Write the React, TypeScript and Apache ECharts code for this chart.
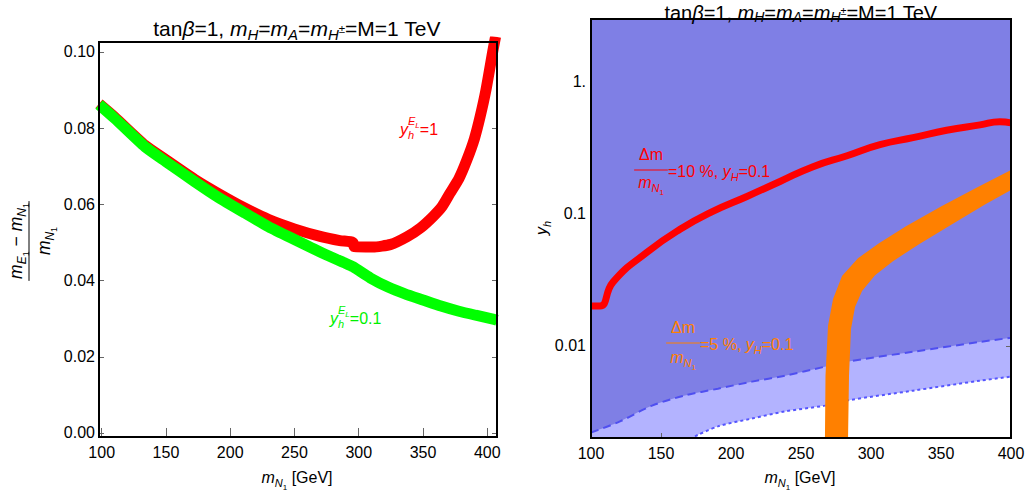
import React, { useEffect, useRef } from "react";
import * as echarts from "echarts";

const FONT = '"Liberation Sans", Arial, Helvetica, sans-serif';

// ---------- Left panel data ----------
const LEFT_X_TICKS = [100, 150, 200, 250, 300, 350, 400];
const LEFT_Y_TICKS = [0, 0.02, 0.04, 0.06, 0.08, 0.1];

const RED_L_X = [97.9, 110, 133.7, 150, 172.6, 190, 211.5, 230, 250.4, 270, 285.3, 295.5, 296.5, 311, 325, 337.6, 348, 357.8, 365, 371, 378, 384.2, 390, 394.4, 399, 404.5, 406.5];
const RED_L_Y = [0.0864, 0.0829, 0.0755, 0.0717, 0.0665, 0.063, 0.059, 0.056, 0.0535, 0.0516, 0.0505, 0.05, 0.0489, 0.0488, 0.0495, 0.0515, 0.0538, 0.0568, 0.0595, 0.0629, 0.0668, 0.0717, 0.0772, 0.0829, 0.09, 0.1005, 0.104];

const GREEN_L_X = [97.9, 110, 133.7, 150, 172.6, 190, 211.5, 230, 250.4, 270, 289.3, 295.6, 309, 322.8, 336, 350, 364, 377.3, 391, 404.5, 407.6];
const GREEN_L_Y = [0.0862, 0.0826, 0.0751, 0.0712, 0.0659, 0.062, 0.0577, 0.0541, 0.0507, 0.0475, 0.0446, 0.0436, 0.0407, 0.0383, 0.0365, 0.0349, 0.0333, 0.032, 0.0309, 0.0299, 0.0296];

// ---------- Right panel data ----------
const RIGHT_X_TICKS = [100, 150, 200, 250, 300, 350, 400];
const RIGHT_Y_TICKS = [0.01, 0.1, 1];

const RED_R_X = [100, 106.4, 115.7, 140, 163.6, 187, 211.4, 235, 258.6, 282.9, 306.4, 330, 354, 377.9, 392, 400];
const RED_R_Y = [0.02, 0.02, 0.0304, 0.0512, 0.0764, 0.1044, 0.1355, 0.176, 0.228, 0.276, 0.335, 0.378, 0.43, 0.473, 0.5, 0.49];

const DASH_X = [100, 120.7, 143.6, 167, 190.7, 215, 238.6, 267, 282.9, 330, 377.9, 400];
const DASH_Y = [0.0022, 0.00267, 0.00352, 0.0042, 0.00473, 0.00535, 0.00594, 0.00694, 0.00757, 0.00901, 0.0107, 0.0115];

const DOT_X = [174.3, 190.7, 215, 238.6, 267, 282.9, 330, 377.9, 400];
const DOT_Y = [0.00206, 0.00245, 0.00281, 0.00318, 0.00352, 0.00385, 0.00457, 0.00544, 0.00583];

const ORANGE_L_X = [267.1, 267.5, 269.3, 272.9, 279.3, 290.7, 305.7, 325, 350, 374.3, 400];
const ORANGE_L_Y = [0.002, 0.00594, 0.01416, 0.02264, 0.03375, 0.0461, 0.0599, 0.0804, 0.1139, 0.1558, 0.215];
const ORANGE_R_X = [283.6, 284.3, 285.7, 288.6, 293.6, 302.9, 315.7, 334.3, 357.9, 381.4, 400];
const ORANGE_R_Y = [0.002, 0.00594, 0.01343, 0.0197, 0.026, 0.0343, 0.0438, 0.0589, 0.0833, 0.1179, 0.152];

const zip = (xs: number[], ys: number[]) => xs.map((x, i) => [x, ys[i]]);

// ---------- text layout helpers ----------
type Run = { t: string; s?: number; i?: boolean; dy?: number; stack?: boolean };
let mctx: CanvasRenderingContext2D | null = null;
function tw(t: string, size: number, italic?: boolean) {
  if (!mctx) mctx = document.createElement("canvas").getContext("2d");
  mctx!.font = `${italic ? "italic " : ""}${size}px ${FONT}`;
  return mctx!.measureText(t).width;
}
function measureRuns(runs: Run[], base: number) {
  let cur = 0;
  let prevStart = 0;
  const pos: { r: Run; size: number; start: number }[] = [];
  runs.forEach((r) => {
    const size = r.s ?? base;
    const w = tw(r.t, size, r.i);
    const start = r.stack ? prevStart : cur;
    pos.push({ r, size, start });
    prevStart = start;
    cur = Math.max(cur, start + w);
  });
  return { pos, width: cur };
}
function textRuns(runs: Run[], base: number, x: number, baseline: number, align: "left" | "center" | "right", color: string): any[] {
  const { pos, width } = measureRuns(runs, base);
  const x0 = align === "center" ? x - width / 2 : align === "right" ? x - width : x;
  return pos.map((p) => ({
    type: "text",
    silent: true,
    z: 110,
    x: x0 + p.start,
    y: baseline + (p.r.dy ?? 0) - 0.35 * p.size,
    style: {
      text: p.r.t,
      fill: color,
      fontSize: p.size,
      fontFamily: FONT,
      fontStyle: p.r.i ? "italic" : "normal",
      align: "left",
      verticalAlign: "middle",
      textAlign: "left",
      textVerticalAlign: "middle",
    },
  }));
}
function fraction(cx: number, numBase: number, lineY: number, denBase: number, num: Run[], den: Run[], base: number, color: string, pad = 4): any[] {
  const wn = measureRuns(num, base).width;
  const wd = measureRuns(den, base).width;
  const half = Math.max(wn, wd) / 2 + pad;
  return [
    ...textRuns(num, base, cx, numBase, "center", color),
    { type: "line", silent: true, z: 110, shape: { x1: cx - half, y1: lineY, x2: cx + half, y2: lineY }, style: { stroke: color, lineWidth: 1 } },
    ...textRuns(den, base, cx, denBase, "center", color),
  ];
}

const titleRuns = (sub: number, dy: number): Run[] => [
  { t: "tan" }, { t: "β", i: true }, { t: "=1, " },
  { t: "m", i: true }, { t: "H", i: true, s: sub, dy }, { t: "=" },
  { t: "m", i: true }, { t: "A", i: true, s: sub, dy }, { t: "=" },
  { t: "m", i: true }, { t: "H", i: true, s: sub, dy }, { t: "±", s: sub * 0.77, dy: dy - 7 },
  { t: "=M=1 TeV" },
];
const MN1: Run[] = [{ t: "m", i: true }, { t: "N", i: true, s: 11, dy: 4 }, { t: "1", s: 8, dy: 7 }];
const MN1B: Run[] = [{ t: "m", i: true }, { t: "N", i: true, s: 12, dy: 4 }, { t: "1", s: 9, dy: 7 }];
const XNAME: Run[] = [...MN1, { t: " [GeV]" }];
const YHEL = (rest: string): Run[] => [
  { t: "y", i: true }, { t: "h", i: true, s: 11, dy: 4 }, { t: "E", i: true, s: 11, dy: -10, stack: true }, { t: "L", i: true, s: 8, dy: -7 }, { t: rest },
];

function buildOption(): any {
  const tick = (vals: number[]) => ({ show: true, inside: true, length: 5, customValues: vals, lineStyle: { color: "#666", width: 1 } });
  const lab = { fontSize: 16, fontFamily: FONT, color: "#000" };
  const common = { axisLine: { show: false }, splitLine: { show: false } };

  const graphics: any[] = [
    { type: "rect", z: 100, silent: true, shape: { x: 99, y: 42, width: 398, height: 395 }, style: { fill: "none", stroke: "#000", lineWidth: 2 } },
    { type: "rect", z: 100, silent: true, shape: { x: 591, y: 19, width: 420, height: 419 }, style: { fill: "none", stroke: "#000", lineWidth: 2 } },
    ...textRuns(titleRuns(15, 4), 21, 297, 36, "center", "#000"),
    ...textRuns(titleRuns(14, 2.5), 20, 801, 19.5, "center", "#000"),
    ...textRuns(XNAME, 16, 297, 483, "center", "#000"),
    ...textRuns(XNAME, 16, 800, 483, "center", "#000"),
    ...textRuns(YHEL("=1"), 16, 400, 135, "left", "#FF0000"),
    ...textRuns(YHEL("=0.1"), 16, 330, 324, "left", "#00F000"),
    // right plot labels
    ...fraction(651, 160, 170, 188, [{ t: "Δm" }], MN1, 16, "#FF0000"),
    ...textRuns([{ t: "=10 %, " }, { t: "y", i: true }, { t: "H", i: true, s: 11, dy: 4 }, { t: "=0.1" }], 16, 668, 177, "left", "#FF0000"),
    ...fraction(683, 333, 343, 363, [{ t: "Δm" }], MN1, 16, "#FF8000"),
    ...textRuns([{ t: "=5 %, " }, { t: "y", i: true }, { t: "H", i: true, s: 11, dy: 4 }, { t: "=0.1" }], 16, 700, 350, "left", "#FF8000"),
    // rotated y-axis names
    {
      type: "group", x: 29, y: 241, rotation: Math.PI / 2,
      children: fraction(0, -7, 0, 21,
        [{ t: "m", i: true }, { t: "E", i: true, s: 12, dy: 4 }, { t: "1", s: 9, dy: 7 }, { t: " − " }, ...MN1B],
        MN1B, 17.5, "#000", 2),
    },
    {
      type: "group", x: 547, y: 228, rotation: Math.PI / 2,
      children: textRuns([{ t: "y", i: true }, { t: "h", i: true, s: 11, dy: 4 }], 16, 0, 0, "center", "#000"),
    },
  ];

  return {
    animation: false,
    backgroundColor: "#fff",
    grid: [
      { left: 99, top: 42, width: 398, height: 395, show: false },
      { left: 591, top: 19, width: 420, height: 419, show: true, backgroundColor: "#B3B3FF", borderWidth: 0 },
    ],
    xAxis: [
      { gridIndex: 0, type: "value", min: 97.9, max: 407.6, position: "bottom", ...common, axisTick: tick(LEFT_X_TICKS), axisLabel: { ...lab, margin: 7, customValues: LEFT_X_TICKS, formatter: (v: number) => String(v) } },
      { gridIndex: 0, type: "value", min: 97.9, max: 407.6, position: "top", ...common, axisTick: tick(LEFT_X_TICKS), axisLabel: { show: false } },
      { gridIndex: 1, type: "value", min: 100, max: 400, position: "bottom", ...common, axisTick: tick(RIGHT_X_TICKS), axisLabel: { ...lab, margin: 7, customValues: RIGHT_X_TICKS, formatter: (v: number) => String(v) } },
      { gridIndex: 1, type: "value", min: 100, max: 400, position: "top", ...common, axisTick: tick(RIGHT_X_TICKS), axisLabel: { show: false } },
    ],
    yAxis: [
      { gridIndex: 0, type: "value", min: -0.00105, max: 0.1026, position: "left", ...common, axisTick: tick(LEFT_Y_TICKS), axisLabel: { ...lab, margin: 4, customValues: LEFT_Y_TICKS, formatter: (v: number) => v.toFixed(2) } },
      { gridIndex: 0, type: "value", min: -0.00105, max: 0.1026, position: "right", ...common, axisTick: tick(LEFT_Y_TICKS), axisLabel: { show: false } },
      { gridIndex: 1, type: "log", logBase: 10, min: 0.002, max: 3, position: "left", ...common, axisTick: tick(RIGHT_Y_TICKS), axisLabel: { ...lab, margin: 5, customValues: RIGHT_Y_TICKS, formatter: (v: number) => (v >= 1 ? `${v}.` : String(v)) } },
      { gridIndex: 1, type: "log", logBase: 10, min: 0.002, max: 3, position: "right", ...common, axisTick: tick(RIGHT_Y_TICKS), axisLabel: { show: false } },
    ],
    series: [
      { type: "line", xAxisIndex: 0, yAxisIndex: 0, data: zip(RED_L_X, RED_L_Y), symbol: "none", smooth: 0.2, lineStyle: { color: "#FF0000", width: 11 }, z: 3 },
      { type: "line", xAxisIndex: 0, yAxisIndex: 0, data: zip(GREEN_L_X, GREEN_L_Y), symbol: "none", smooth: 0.2, lineStyle: { color: "#00FF00", width: 11 }, z: 4 },
      { type: "line", xAxisIndex: 2, yAxisIndex: 2, data: zip(DOT_X, DOT_Y), symbol: "none", smooth: 0.3, lineStyle: { color: "#5555FF", width: 2, type: [3, 3] }, areaStyle: { origin: "start", color: "#FFFFFF", opacity: 1 }, z: 2 },
      { type: "line", xAxisIndex: 2, yAxisIndex: 2, data: zip(DASH_X, DASH_Y), symbol: "none", smooth: 0.3, lineStyle: { color: "#4F4FF0", width: 2, type: [8, 5] }, areaStyle: { origin: "end", color: "#7F7FE5", opacity: 1 }, z: 2 },
      { type: "line", xAxisIndex: 2, yAxisIndex: 2, data: zip(RED_R_X, RED_R_Y), symbol: "none", smooth: 0.5, lineStyle: { color: "#FF0000", width: 7 }, z: 4 },
      {
        type: "custom", xAxisIndex: 2, yAxisIndex: 2, clip: true, z: 5,
        data: [[300, 0.05]],
        renderItem: (_p: any, api: any) => {
          const pts: number[][] = [];
          ORANGE_L_X.forEach((x, i) => pts.push(api.coord([x, ORANGE_L_Y[i]])));
          for (let i = ORANGE_R_X.length - 1; i >= 0; i--) pts.push(api.coord([ORANGE_R_X[i], ORANGE_R_Y[i]]));
          return { type: "polygon", shape: { points: pts }, style: { fill: "#FF8000" } };
        },
      },
    ],
    graphic: { elements: graphics },
  };
}

export default function App() {
  const ref = useRef<HTMLDivElement>(null);
  useEffect(() => {
    const chart = echarts.init(ref.current!, null, { renderer: "svg" });
    chart.setOption(buildOption());
    return () => chart.dispose();
  }, []);
  return <div ref={ref} style={{ position: "fixed", left: 0, top: 0, width: 1028, height: 494, background: "#fff" }} />;
}
